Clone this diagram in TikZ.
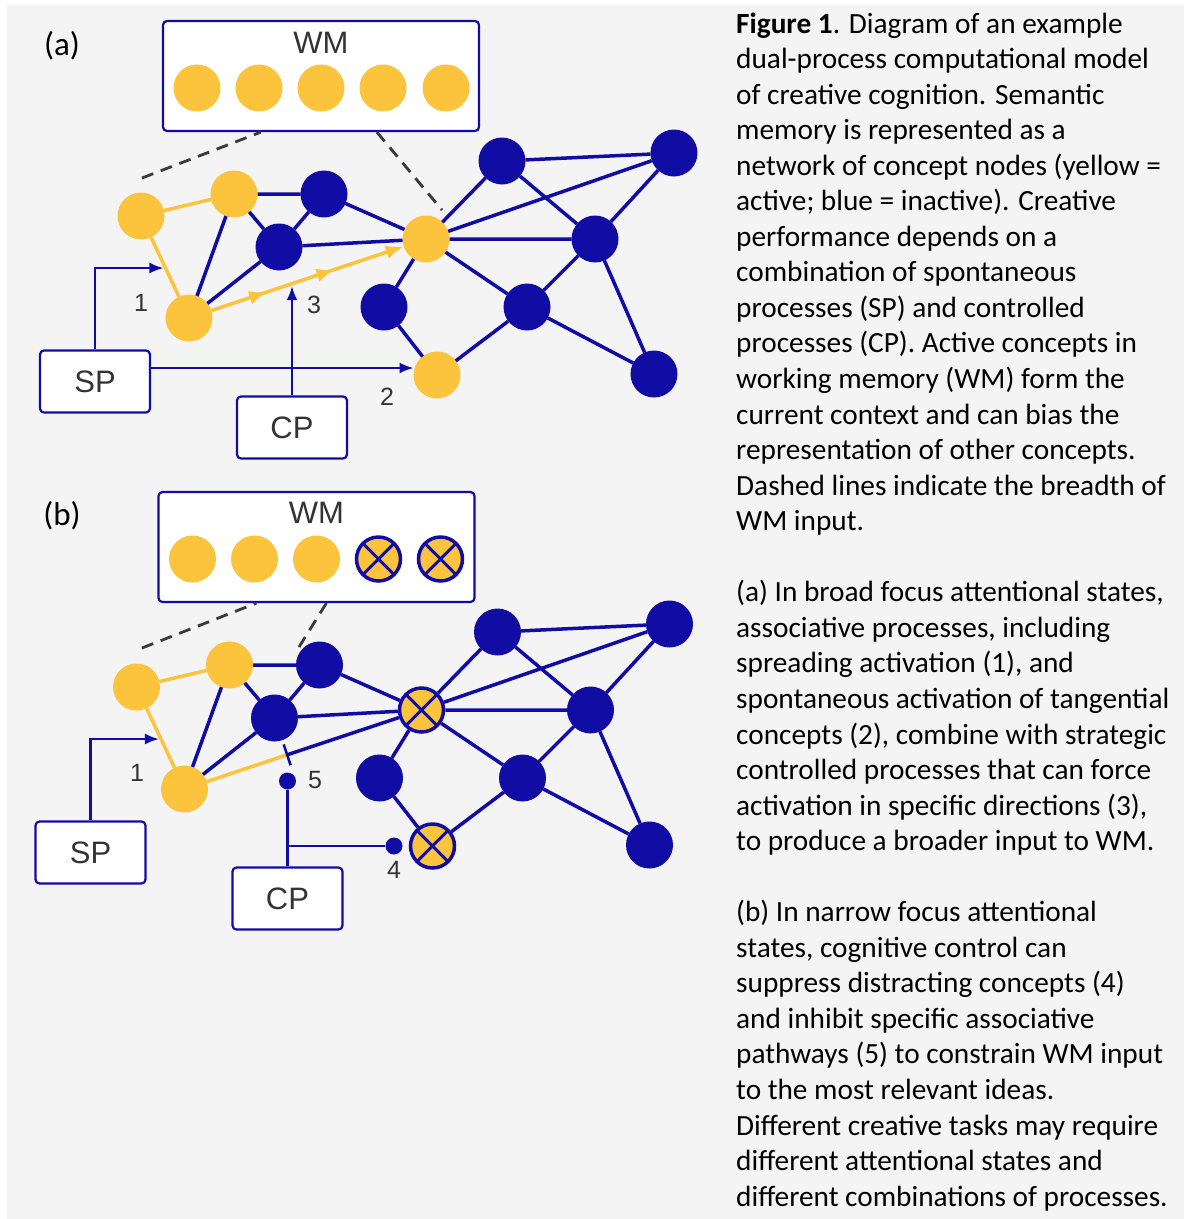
\documentclass[tikz,border=0pt]{standalone}
\usepackage{fontspec}
\setmainfont{Carlito}
\newfontfamily\arialf{Liberation Sans}
\usetikzlibrary{arrows.meta,calc,decorations.markings}
\definecolor{ylw}{HTML}{FCC43C}
\definecolor{blu}{HTML}{110CA3}
\definecolor{bgc}{HTML}{F4F4F4}
\definecolor{txt}{HTML}{333333}
\definecolor{dsh}{HTML}{3A3A3A}
\begin{document}
\begin{tikzpicture}[x=1pt,y=-1pt,
  ynode/.style={circle,fill=ylw,minimum size=47pt,inner sep=0pt,outer sep=0pt},
  bnode/.style={circle,fill=blu,minimum size=47pt,inner sep=0pt,outer sep=0pt},
  xnode/.style={circle,fill=ylw,draw=blu,line width=3.5pt,minimum size=44pt,inner sep=0pt,
    path picture={\draw[blu,line width=3pt] (path picture bounding box.north west)--(path picture bounding box.south east)
      (path picture bounding box.north east)--(path picture bounding box.south west);}},
  bedge/.style={blu,line width=3.5pt},
  yedge/.style={ylw,line width=3.5pt},
  wmbox/.style={draw=blu,line width=2.2pt,fill=white,rounded corners=4pt,inner sep=0pt,minimum width=316pt,minimum height=110pt},
  pbox/.style={draw=blu,line width=2.2pt,fill=white,rounded corners=4pt,inner sep=0pt,minimum width=110pt,minimum height=62pt,lbl},
  lbl/.style={font=\arialf\fontsize{31}{31}\selectfont,text=txt},
  numlbl/.style={font=\arialf\fontsize{25}{25}\selectfont,text=txt,inner sep=0pt},
  ctrl/.style={blu,line width=2.2pt},
  arr/.style={-{Latex[length=14pt,width=11pt]}},
  dashl/.style={dsh,line width=2.8pt,dash pattern=on 12pt off 8pt},
  dotn/.style={circle,fill=blu,minimum size=17pt,inner sep=0pt},
  captxt/.style={anchor=base west,inner sep=0pt,font=\fontsize{29.3}{35.8}\selectfont},
  plabel/.style={font=\fontsize{33}{33}\selectfont,inner sep=0pt}
]
\useasboundingbox (0,0) rectangle (1184,1219);
\fill[white] (0,0) rectangle (1184,1219);
\fill[bgc] (7,5) rectangle (1184,1219);

% ---------------- panel (a)
\node[plabel] (la) at (62,46) {(a)};
\node[wmbox] (a-wm) at (321,76) {};
\node[lbl] (a-wmt) at (321,43) {WM};
\foreach \x [count=\k] in {197,259,321,383,446} \node[ynode] (a-w\k) at (\x,88) {};

\node[ynode] (a-a1) at (141,216) {};
\node[ynode] (a-a2) at (234,194) {};
\node[ynode] (a-a3) at (189,318) {};
\node[ynode] (a-hub) at (426,239) {};
\node[ynode] (a-a5) at (437,375) {};
\node[bnode] (a-b1) at (324,194) {};
\node[bnode] (a-b2) at (279,247) {};
\node[bnode] (a-b3) at (384,307) {};
\node[bnode] (a-b4) at (502,161) {};
\node[bnode] (a-b5) at (674,153) {};
\node[bnode] (a-b6) at (595,239) {};
\node[bnode] (a-b7) at (527,307) {};
\node[bnode] (a-b8) at (654,374) {};

\draw[yedge] (a-a1) -- (a-a2) (a-a1) -- (a-a3);
\draw[bedge] (a-a2) -- (a-b1) (a-a2) -- (a-a3) (a-a2) -- (a-b2) (a-b1) -- (a-b2)
  (a-b1) -- (a-hub) (a-b2) -- (a-hub) (a-a3) -- (a-b2) (a-hub) -- (a-b3) (a-b3) -- (a-a5)
  (a-a5) -- (a-b7) (a-hub) -- (a-b4) (a-hub) -- (a-b5) (a-hub) -- (a-b6) (a-hub) -- (a-b7)
  (a-b4) -- (a-b5) (a-b4) -- (a-b6) (a-b5) -- (a-b6) (a-b6) -- (a-b7) (a-b6) -- (a-b8) (a-b7) -- (a-b8);
\draw[yedge,-{Latex[length=18pt,width=14pt]},postaction=decorate,
  decoration={markings,
    mark=at position 0.29 with {\arrow{Latex[length=18pt,width=14pt]}},
    mark=at position 0.64 with {\arrow{Latex[length=18pt,width=14pt]}}}] (a-a3) -- (a-hub);

\coordinate (a-d1) at (142,178);
\coordinate (a-d2) at (442,210);
\draw[dashl] (a-d1) -- ([xshift=99pt]a-wm.south west);
\draw[dashl] ([xshift=215pt]a-wm.south west) -- (a-d2);

\node[pbox] (a-sp) at (95,381.5) {SP};
\node[pbox] (a-cp) at (292,427.5) {CP};

\coordinate (a-e1) at ($(a-a1)!0.51!(a-a3)$);
\draw[ctrl,arr] (a-sp.north) |- ([xshift=-2pt]a-e1);
\coordinate (a-s2) at ([yshift=13.5pt]a-sp.east);
\draw[ctrl,arr] (a-s2) -- (a-s2 -| a-a5.west);
\coordinate (a-e3) at ($(a-a3)!0.435!(a-hub)$);
\coordinate (a-t3) at (a-cp.north |- a-e3);
\draw[ctrl,arr] (a-cp.north) -- ([yshift=-2.5pt]a-t3);

\node[numlbl] (a-n1) at (141,303) {1};
\node[numlbl] (a-n2) at (387,397) {2};
\node[numlbl] (a-n3) at (314,305) {3};

% ---------------- panel (b)
\node[plabel] (lb) at (62,516) {(b)};
\begin{scope}[shift={(-4.5,471)}]
\node[wmbox] (b-wm) at (321,76) {};
\node[lbl] (b-wmt) at (321,42) {WM};
\foreach \x [count=\k] in {197,259,321} \node[ynode] (b-w\k) at (\x,88) {};
\node[xnode] (b-w4) at (383,88) {};
\node[xnode] (b-w5) at (445,88) {};

\node[ynode] (b-a1) at (141,216) {};
\node[ynode] (b-a2) at (234,194) {};
\node[ynode] (b-a3) at (189,318) {};
\node[xnode] (b-hub) at (426,239) {};
\node[xnode] (b-a5) at (437,375) {};
\node[bnode] (b-b1) at (324,194) {};
\node[bnode] (b-b2) at (279,247) {};
\node[bnode] (b-b3) at (384,307) {};
\node[bnode] (b-b4) at (502,161) {};
\node[bnode] (b-b5) at (674,153) {};
\node[bnode] (b-b6) at (595,239) {};
\node[bnode] (b-b7) at (527,307) {};
\node[bnode] (b-b8) at (654,374) {};

\draw[yedge] (b-a1) -- (b-a2) (b-a1) -- (b-a3);
\draw[bedge] (b-a2) -- (b-b1) (b-a2) -- (b-a3) (b-a2) -- (b-b2) (b-b1) -- (b-b2)
  (b-b1) -- (b-hub) (b-b2) -- (b-hub) (b-a3) -- (b-b2) (b-hub) -- (b-b3) (b-b3) -- (b-a5)
  (b-a5) -- (b-b7) (b-hub) -- (b-b4) (b-hub) -- (b-b5) (b-hub) -- (b-b6) (b-hub) -- (b-b7)
  (b-b4) -- (b-b5) (b-b4) -- (b-b6) (b-b5) -- (b-b6) (b-b6) -- (b-b7) (b-b6) -- (b-b8) (b-b7) -- (b-b8);
\coordinate (b-p5) at ($(b-a3)!0.433!(b-hub)$);
\draw[yedge] (b-a3) -- (b-p5);
\draw[bedge] (b-p5) -- (b-hub);
\draw[blu,line width=2.5pt] ($(b-p5)!11pt!90:(b-hub)$) -- ($(b-p5)!11pt!-90:(b-hub)$);

\coordinate (b-d1) at (146.5,177);
\coordinate (b-d2) at (303.5,176);
\draw[dashl] (b-d1) -- ([xshift=99pt]b-wm.south west);
\draw[dashl] ([xshift=169pt]b-wm.south west) -- (b-d2);

\node[pbox] (b-sp) at (95,381.5) {SP};
\node[pbox] (b-cp) at (292,427.5) {CP};

\coordinate (b-e1) at ($(b-a1)!0.51!(b-a3)$);
\draw[ctrl,arr] (b-sp.north) |- ([xshift=-2pt]b-e1);

\node[dotn] (b-dot5) at (292,310) {};
\node[dotn] (b-dot4) at (398.5,375) {};
\draw[ctrl] (b-cp.north) -- (b-dot5);
\coordinate (b-j) at (b-cp.north |- b-dot4);
\draw[ctrl] (b-j) -- (b-dot4);

\node[numlbl] (b-n1) at (141.5,302) {1};
\node[numlbl] (b-n5) at (319.5,309) {5};
\node[numlbl] (b-n4) at (398.5,399) {4};
\end{scope}

% ---------------- caption
\foreach \capline [count=\i from 0] in {
{\textbf{Figure 1}. Diagram of an example},
{dual-process computational model},
{of creative cognition. Semantic},
{memory is represented as a},
{network of concept nodes (yellow =},
{active; blue = inactive). Creative},
{performance depends on a},
{combination of spontaneous},
{processes (SP) and controlled},
{processes (CP). Active concepts in},
{working memory (WM) form the},
{current context and can bias the},
{representation of other concepts.},
{Dashed lines indicate the breadth of},
{WM input.},
{},
{(a) In broad focus attentional states,},
{associative processes, including},
{spreading activation (1), and},
{spontaneous activation of tangential},
{concepts (2), combine with strategic},
{controlled processes that can force},
{activation in specific directions (3),},
{to produce a broader input to WM.},
{},
{(b) In narrow focus attentional},
{states, cognitive control can},
{suppress distracting concepts (4)},
{and inhibit specific associative},
{pathways (5) to constrain WM input},
{to the most relevant ideas.},
{Different creative tasks may require},
{different attentional states and},
{different combinations of processes.}}
  \node[captxt] (cap\i) at (736,33+\i*35.55) {\capline};
\end{tikzpicture}
\end{document}
